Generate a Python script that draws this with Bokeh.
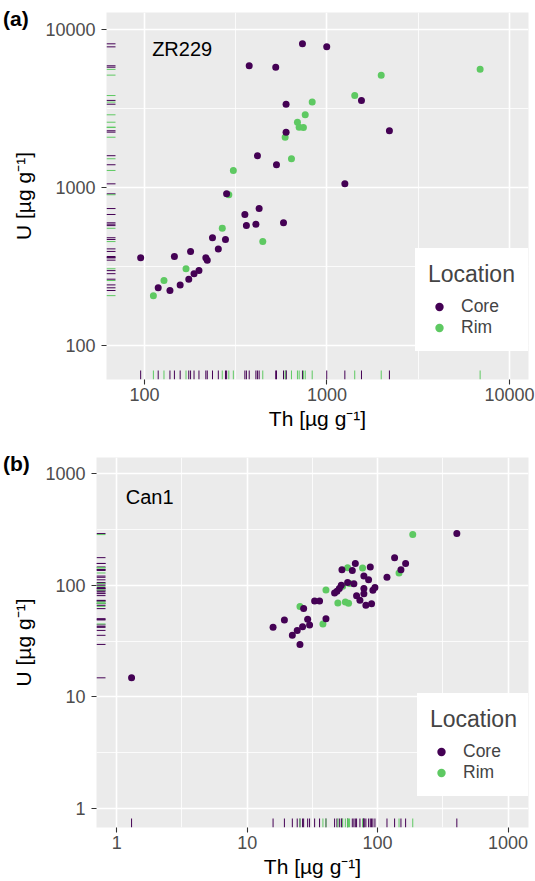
import numpy as np
from bokeh.plotting import figure
from bokeh.models import (FixedTicker, BasicTickFormatter, Range1d, Legend,
                          LegendItem, Div)
from bokeh.core.properties import value
from bokeh.embed import file_html
from bokeh.resources import INLINE

FONT = "Liberation Sans"
CORE_COLOR = "#440154"
RIM_COLOR = "#5EC962"
locations = ["Core", "Rim"]
legend_title = "Location"
x_title = "Th [µg g⁻¹]"
y_title = "U [µg g⁻¹]"

# ---------------- ZR229 (panel a) ----------------
zr_core_th = [734, 997, 375, 524, 597, 597, 1545, 2198, 416, 529, 1253, 282,
              355, 425, 362, 408, 578, 236, 278, 254, 179, 146, 95.4, 217,
              221, 199, 187, 175, 157, 119, 138]
zr_core_u = [8110, 7760, 5890, 5770, 3365, 2240, 3556, 2285, 1589, 1393, 1055,
             912, 675, 736, 574, 586, 598, 481, 469, 409, 394, 366, 359, 360,
             347, 298, 285, 263, 242, 232, 223]
zr_rim_th = [830, 760, 689, 704, 743, 590, 639, 307, 290, 1982, 6900, 1419,
             267, 445, 169, 128, 112]
zr_rim_u = [3470, 2884, 2589, 2409, 2398, 2080, 1520, 1282, 900, 5140, 5590,
            3819, 552, 455, 306, 258, 207]

# ---------------- Can1 (panel b) ----------------
can_core_th = [405, 135, 164, 151, 118, 67.5, 64.0, 53.3, 87.9, 78.5, 85.3,
               58.9, 65.8, 52.7, 50.9, 48.8, 46.8, 78.5, 78.5, 92.0, 95.4,
               69.0, 73.2, 81.3, 89.9, 32.9, 35.9, 27.1, 19.3, 15.8, 29.1,
               40.2, 30.1, 26.6, 24.2, 22.2, 25.4, 1.30]
can_core_u = [291, 177, 157, 138, 118, 157, 136, 138, 146, 121, 112, 106, 103,
              100, 93.4, 88.3, 85.3, 93.4, 84.2, 90.2, 95.4, 80.8, 73.3, 66.1,
              68.5, 72.3, 72.3, 61.8, 48.9, 42.0, 49.5, 50.2, 44.1, 42.6, 39.4,
              35.6, 29.5, 14.8]
can_rim_th = [186, 146, 58.9, 76.7, 40.2, 49.6, 56.6, 59.9, 25.4, 38.1, 61.0, 54.0]
can_rim_u = [285, 129, 144, 143, 90.7, 69.4, 70.8, 68.9, 64.7, 45.0, 104, 98]

# ticks
x_ticks_a = [100, 1000, 10000]
y_ticks_a = [100, 1000, 10000]
x_ticks_b = [1, 10, 100, 1000]
y_ticks_b = [1, 10, 100, 1000]

RUG_PX = 9


def minor_between(ticks):
    t = np.array(ticks, dtype=float)
    r = np.sqrt(t[1] / t[0])
    return [t[0] / r] + list(np.sqrt(t[:-1] * t[1:])) + [t[-1] * r]


def make_panel(sample, sample_pos, core_th, core_u, rim_th, rim_u,
               xr, yr, xt, yt, frame_w, frame_h, borders, legend_pos):
    left, right, top, bottom = borders
    p = figure(x_axis_type="log", y_axis_type="log",
               x_range=Range1d(*xr), y_range=Range1d(*yr),
               frame_width=frame_w, frame_height=frame_h,
               min_border_left=left, min_border_right=right,
               min_border_top=top, min_border_bottom=bottom,
               output_backend="svg", toolbar_location=None,
               background_fill_color="#EBEBEB", border_fill_color="white",
               outline_line_color=None)

    for ax, ticks in ((p.xaxis[0], xt), (p.yaxis[0], yt)):
        tk = FixedTicker(ticks=ticks, minor_ticks=minor_between(ticks))
        ax.ticker = tk
        ax.formatter = BasicTickFormatter()
        ax.axis_line_color = None
        ax.major_tick_line_color = "#333333"
        ax.major_tick_line_width = 1.1
        ax.major_tick_out = 5
        ax.major_tick_in = 0
        ax.minor_tick_line_color = None
        ax.major_label_text_font = FONT
        ax.major_label_text_font_size = "18px"
        ax.major_label_text_color = "#4D4D4D"
        ax.axis_label_text_font = FONT
        ax.axis_label_text_font_size = "21px"
        ax.axis_label_text_font_style = "normal"
        ax.axis_label_text_color = "black"
    p.xgrid[0].ticker = p.xaxis[0].ticker
    p.ygrid[0].ticker = p.yaxis[0].ticker
    p.xaxis.axis_label = x_title
    p.yaxis.axis_label = y_title
    p.xaxis.major_label_standoff = 3
    p.yaxis.major_label_standoff = 6
    p.xaxis.axis_label_standoff = 3
    p.yaxis.axis_label_standoff = 7

    for g in (p.xgrid[0], p.ygrid[0]):
        g.grid_line_color = "white"
        g.grid_line_width = 1.6
        g.minor_grid_line_color = "white"
        g.minor_grid_line_width = 0.8

    # rugs
    lx = np.log10(xr[1] / xr[0])
    ly = np.log10(yr[1] / yr[0])
    y_end = yr[0] * 10 ** (RUG_PX / frame_h * ly)
    x_end = xr[0] * 10 ** (RUG_PX / frame_w * lx)
    for th, u, col in ((core_th, core_u, CORE_COLOR), (rim_th, rim_u, RIM_COLOR)):
        n = len(th)
        p.segment(x0=th, x1=th, y0=[yr[0]] * n, y1=[y_end] * n,
                  line_color=col, line_width=1)
        p.segment(x0=[xr[0]] * n, x1=[x_end] * n, y0=u, y1=u,
                  line_color=col, line_width=1)

    rr = p.scatter(rim_th, rim_u, size=7, fill_color=RIM_COLOR, line_color=None)
    rc = p.scatter(core_th, core_u, size=7, fill_color=CORE_COLOR, line_color=None)

    p.text(x=[sample_pos[0]], y=[sample_pos[1]], text=[sample],
           text_font=value(FONT), text_font_size="20px", text_color="black",
           text_align="center", text_baseline="middle")

    legend = Legend(items=[LegendItem(label=locations[0], renderers=[rc]),
                           LegendItem(label=locations[1], renderers=[rr])],
                    title=legend_title, location=legend_pos)
    legend.title_text_font = FONT
    legend.title_text_font_size = "23px"
    legend.title_text_font_style = "normal"
    legend.title_standoff = 8
    legend.label_text_font = FONT
    legend.label_text_font_size = "17.5px"
    legend.glyph_width = 22
    legend.glyph_height = 21
    legend.label_height = 21
    legend.label_standoff = 11
    legend.spacing = 0
    legend.padding = 12
    legend.margin = 0
    legend.border_line_color = "white"
    legend.border_line_width = 1
    legend.background_fill_color = "white"
    legend.background_fill_alpha = 1.0
    p.add_layout(legend)
    return p


def make_tag(text, top_px):
    html = ('<div style="font-family:\'Liberation Sans\',Arial,sans-serif;'
            'font-weight:bold;font-size:21px;line-height:21px;color:#000;'
            'white-space:nowrap;margin:0;padding:0">%s</div>' % text)
    return Div(text=html, width=40, height=24,
               styles={"position": "absolute", "left": "3px", "top": "%dpx" % top_px,
                       "margin": "0", "padding": "0"})


pa = make_panel("ZR229", (161, 7470), zr_core_th, zr_core_u, zr_rim_th, zr_rim_u,
                (62, 12700), (61, 12800), x_ticks_a, y_ticks_a,
                422, 367, (106, 7, 12, 61), (309, 28))
pb = make_panel("Can1", (1.79, 617), can_core_th, can_core_u, can_rim_th, can_rim_u,
                (0.70, 1435), (0.673, 1400), x_ticks_b, y_ticks_b,
                432, 370, (96, 7, 17, 54), (321, 31))

tag_a = make_tag("(a)", 8)
tag_b = make_tag("(b)", 453)

open("out.html", "w").write(file_html([pa, pb, tag_a, tag_b], INLINE))
